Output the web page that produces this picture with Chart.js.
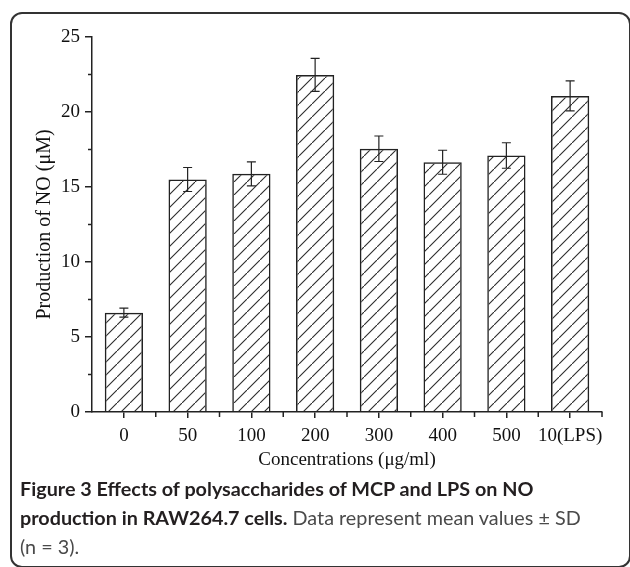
<!DOCTYPE html>
<html>
<head>
<meta charset="utf-8">
<script src="https://cdn.jsdelivr.net/npm/chart.js@4/dist/chart.umd.min.js"></script>
<style>
  html, body { margin: 0; padding: 0; background: #fff; }
  body { width: 630px; height: 567px; position: relative; overflow: hidden; }
  #frame { position: absolute; left: 10px; top: 12px; width: 621px; height: 556px;
           border: 2px solid #333; border-radius: 12px; box-sizing: border-box; }
  #wrap { position: absolute; left: 0; top: 0; width: 630px; height: 475px; }
  #caption { position: absolute; left: 20px; top: 474px; width: 605px;
             font-family: Lato, "Open Sans", sans-serif; font-size: 19.8px; line-height: 29px; color: #231f20; }
  #caption b { font-weight: 700; }
  #caption span { color: #4a4a4a; }
</style>
</head>
<body>
<div id="frame"></div>
<div id="wrap"><canvas id="chart" width="630" height="475"></canvas></div>
<div id="caption">
  <b>Figure 3 Effects of polysaccharides of MCP and LPS on NO<br>production in RAW264.7 cells.</b> <span>Data represent mean values ± SD<br>(n = 3).</span>
</div>
<script>
// Data
const concentrations = ['0', '50', '100', '200', '300', '400', '500', '10(LPS)'];
const noMeans = [6.62, 15.5, 15.88, 22.47, 17.55, 16.65, 17.1, 21.07];
const noSD = [0.3, 0.8, 0.8, 1.1, 0.85, 0.8, 0.85, 1.0];
const yMinorTicks = [2.5, 7.5, 12.5, 17.5, 22.5];

// diagonal hatch fill for the bars
function hatchPattern(ctx) {
    const tile = document.createElement('canvas');
    tile.width = 13;
    tile.height = 13;
    const t = tile.getContext('2d');
    t.strokeStyle = '#2a2a2a';
    t.lineWidth = 1.1;
    t.beginPath();
    t.moveTo(-2, 15);
    t.lineTo(15, -2);
    t.stroke();
    return ctx.createPattern(tile, 'repeat');
}

const extraMarks = {
    id: 'extraMarks',
    afterDatasetsDraw(chart) {
        const ctx = chart.ctx;
        const x = chart.scales.x, y = chart.scales.y;
        const area = chart.chartArea;
        ctx.save();
        ctx.strokeStyle = '#222';
        ctx.lineWidth = 1.2;
        // error bars
        noMeans.forEach((m, i) => {
            const px = x.getPixelForValue(i);
            const top = y.getPixelForValue(m + noSD[i]);
            const bot = y.getPixelForValue(m - noSD[i]);
            ctx.beginPath();
            ctx.moveTo(px, top); ctx.lineTo(px, bot);
            ctx.moveTo(px - 4.5, top); ctx.lineTo(px + 4.5, top);
            ctx.moveTo(px - 4.5, bot); ctx.lineTo(px + 4.5, bot);
            ctx.stroke();
        });
        // minor ticks on y
        ctx.lineWidth = 1.5;
        yMinorTicks.forEach(v => {
            const py = y.getPixelForValue(v);
            ctx.beginPath();
            ctx.moveTo(area.left - 4, py); ctx.lineTo(area.left, py);
            ctx.stroke();
        });
        // boundary ticks on x
        for (let i = 0; i < concentrations.length; i++) {
            const px = i < concentrations.length - 1
                ? (x.getPixelForValue(i) + x.getPixelForValue(i + 1)) / 2
                : area.right;
            ctx.beginPath();
            ctx.moveTo(px, area.bottom); ctx.lineTo(px, area.bottom + 5);
            ctx.stroke();
        }
        ctx.restore();
    }
};

const ctx = document.getElementById('chart').getContext('2d');
const serif = 'Liberation Serif, Times New Roman, serif';

new Chart(ctx, {
    type: 'bar',
    data: {
        labels: concentrations,
        datasets: [{
            data: noMeans,
            backgroundColor: hatchPattern(ctx),
            borderColor: '#222',
            borderWidth: 1.5,
            categoryPercentage: 1,
            barPercentage: 0.6
        }]
    },
    options: {
        responsive: false,
        animation: false,
        layout: { padding: { left: 0, top: 37, right: 28, bottom: 0 } },
        plugins: { legend: { display: false }, tooltip: { enabled: false } },
        scales: {
            x: {
                offset: true,
                grid: { offset: false, drawOnChartArea: false, drawTicks: true, tickLength: 6, color: '#222', lineWidth: 1.5 },
                border: { display: true, color: '#222', width: 1.5 },
                ticks: { color: '#111', font: { family: serif, size: 19 }, padding: 7, maxRotation: 0, autoSkip: false },
                title: { display: true, text: 'Concentrations (μg/ml)', color: '#111',
                         font: { family: serif, size: 19 }, padding: { top: 0, bottom: 4 } },
                afterFit(scale) { scale.height = 63; }
            },
            y: {
                min: 0, max: 25,
                ticks: { stepSize: 5, color: '#111', font: { family: serif, size: 19 }, padding: 5 },
                grid: { drawOnChartArea: false, drawTicks: true, tickLength: 7, color: '#222', lineWidth: 1.5 },
                border: { display: true, color: '#222', width: 1.5 },
                title: { display: true, text: 'Production of NO (μM)', color: '#111',
                         font: { family: serif, size: 20 }, padding: { top: 33, bottom: 0 } },
                afterFit(scale) { scale.width = 92; }
            }
        }
    },
    plugins: [extraMarks]
});
</script>
</body>
</html>
